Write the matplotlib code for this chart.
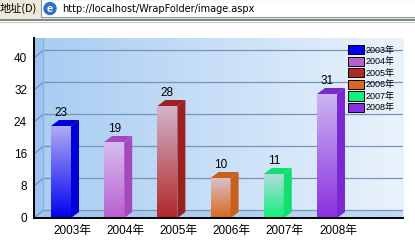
import numpy as np
import matplotlib
matplotlib.use('Agg')
import matplotlib.pyplot as plt
from matplotlib.patches import Polygon, Rectangle, Circle, Patch
from matplotlib.colors import to_rgb

plt.rcParams['font.family'] = ['Liberation Sans', 'Noto Sans CJK SC', 'DejaVu Sans']

years = ['2003年', '2004年', '2005年', '2006年', '2007年', '2008年']
counts = [23, 19, 28, 10, 11, 31]
colors = ['#0000F0', '#BA5ED0', '#B02828', '#D8691E', '#10F07C', '#8A30E0']
side_colors = ['#0000D8', '#A848C0', '#9C2020', '#C8601A', '#10E070', '#7A28D0']
yticks = [0, 8, 16, 24, 32, 40]
url = 'http://localhost/WrapFolder/image.aspx'

W, H = 415, 241
fig = plt.figure(figsize=(W / 100, H / 100), dpi=100)
fig.patch.set_facecolor('white')

# browser address bar across the top
bar_ax = fig.add_axes([0, 1 - 24 / H, 1, 24 / H])
bar_ax.set_xlim(0, W)
bar_ax.set_ylim(24, 0)
bar_ax.axis('off')
bar_ax.add_patch(Rectangle((0, 0), W, 18, color='#ECE9D8'))
bar_ax.add_patch(Rectangle((40.5, -1), W, 18, facecolor='white', edgecolor='#7F9DB9', lw=0.8))
bar_ax.plot([0, W], [19.5, 19.5], color='#808080', lw=1.4)
bar_ax.plot([0, W], [22, 22], color='#C8C8C8', lw=0.8)
bar_ax.text(0, 8.5, '地址(D)', family=['Noto Sans CJK SC'], fontsize=8, va='center', ha='left')
bar_ax.add_patch(Circle((50, 8.5), 6, color='#2F6FC8'))
bar_ax.text(50, 8.5, 'e', color='white', fontsize=8, fontweight='bold', va='center', ha='center')
bar_ax.text(62, 8.5, url, family=['DejaVu Sans'], fontsize=7, va='center', ha='left')

# chart axes: 53.2 px per category, 4 px per unit
px_x = 1 / 53.2
px_y = 45 / 180
x_lo = -27 * px_x
x_hi = x_lo + 369 * px_x
ax = fig.add_axes([34 / W, 23 / H, 369 / W, 180 / H])
ax.set_facecolor('white')

# back wall gradient
grad = np.linspace(0, 1, 256)
c_left = np.array(to_rgb('#A8CCF2'))
c_right = np.array(to_rgb('#EAF3FC'))
img = c_left[None, None, :] * (1 - grad[None, :, None]) + c_right[None, None, :] * grad[None, :, None]
ax.imshow(img, extent=(x_lo, x_hi, 0, 45), aspect='auto', zorder=0)

gdx, gdy = 9 * px_x, 7.5 * px_y
ax.add_patch(Polygon([(x_lo, 0), (x_lo + gdx, gdy), (x_lo + gdx, 45), (x_lo, 45)],
                     facecolor='#8EBBEA', alpha=0.45, lw=0, zorder=1))
ax.add_patch(Polygon([(x_lo, 0), (x_hi, 0), (x_hi, gdy), (x_lo + gdx, gdy)],
                     facecolor='#8EBBEA', alpha=0.45, lw=0, zorder=1))
grid_c = '#7895B8'
for t in yticks:
    ax.plot([x_lo, x_lo + gdx, x_hi], [t, t + gdy, t + gdy], color=grid_c, lw=0.9, zorder=2)
ax.plot([x_lo + gdx, x_lo + gdx], [gdy, 45], color='#8FB0D4', lw=0.8, zorder=2)

# bars with a fake 3d look
x = np.arange(len(counts))
bw = 20 * px_x
bdx, bdy = 8 * px_x, 6 * px_y
bars = ax.bar(x, counts, bw, color='none', edgecolor='none', zorder=3)
for b, c, sc, v in zip(bars, colors, side_colors, counts):
    x0, h = b.get_x(), b.get_height()
    x1 = x0 + bw
    base = np.array(to_rgb(c))
    light = base * 0.2 + np.array([0.86, 0.84, 0.96]) * 0.8
    t = np.linspace(0, 1, 128)[:, None, None]
    face = light[None, None, :] * (1 - t) + base[None, None, :] * t
    ax.imshow(face, extent=(x0, x1, 0, h), aspect='auto', zorder=3)
    ax.add_patch(Polygon([(x1, 0), (x1 + bdx, bdy), (x1 + bdx, h + bdy), (x1, h)],
                         facecolor=sc, lw=0, zorder=3))
    ax.add_patch(Polygon([(x0, h), (x0 + bdx, h + bdy), (x1 + bdx, h + bdy), (x1, h)],
                         facecolor=sc, lw=0, zorder=3))
    ax.text(b.get_x() + bw / 2, h + bdy + 0.3, str(v), ha='center', va='bottom',
            fontsize=8.5, zorder=4)

ax.set_xlim(x_lo, x_hi)
ax.set_ylim(0, 45)
ax.set_yticks(yticks)
ax.set_xticks(x + 11 * px_x)
ax.set_xticklabels(years)
ax.tick_params(length=0, labelsize=8.5)
ax.tick_params(axis='y', pad=5)
ax.tick_params(axis='x', pad=5)
for s in ['top', 'right']:
    ax.spines[s].set_visible(False)
for s in ['left', 'bottom']:
    ax.spines[s].set_linewidth(1.4)
    ax.spines[s].set_zorder(5)

handles = [Patch(facecolor=c, edgecolor='black', lw=0.7) for c in colors]
leg = fig.legend(handles, years, loc='upper left', bbox_to_anchor=(348 / W, 1 - 45 / H),
                 frameon=False, fontsize=6.5, handlelength=1.75, handleheight=1.22,
                 handletextpad=0.25, labelspacing=0.2, borderpad=0, borderaxespad=0)

fig.savefig('out.png', dpi=100)
